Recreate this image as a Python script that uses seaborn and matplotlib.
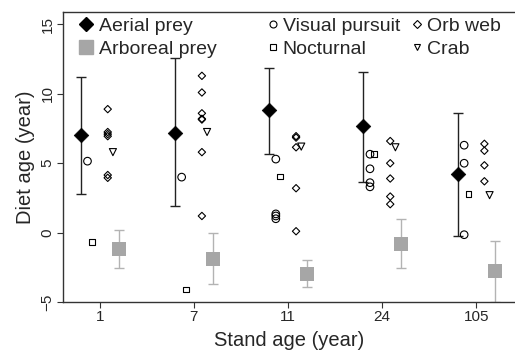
import matplotlib
matplotlib.use("Agg")
import matplotlib.pyplot as plt
from matplotlib.lines import Line2D
import numpy as np
import pandas as pd
import seaborn as sns

# ---------------- data ----------------
stand_ages = ["1", "7", "11", "24", "105"]

aerial_mean = [7.0, 7.2, 8.85, 7.65, 4.2]
aerial_low = [2.75, 1.9, 5.65, 3.65, -0.25]
aerial_high = [11.2, 12.55, 11.9, 11.55, 8.6]

arboreal_mean = [-1.15, -1.9, -2.95, -0.8, -2.75]
arboreal_low = [-2.55, -3.7, -3.95, -2.55, -5.0]
arboreal_high = [0.2, -0.05, -1.95, 0.95, -0.6]

visual_pursuit = [[5.15], [4.0], [5.3, 1.35, 1.2, 1.0], [5.65, 4.6, 3.6, 3.3], [6.3, 5.0, -0.15]]
nocturnal = [[-0.65], [-4.1], [4.05], [5.65], [2.8]]
orb_web = [[8.9, 7.25, 7.1, 6.95, 4.15, 3.95],
           [11.3, 10.1, 8.6, 8.2, 8.15, 5.8, 1.2],
           [6.95, 6.85, 6.15, 3.2, 0.1],
           [6.6, 5.0, 3.9, 2.6, 2.05],
           [6.4, 5.9, 4.85, 3.7]]
crab = [[5.8], [7.25], [6.2], [6.15], [2.7]]

# ---------------- styling ----------------
sns.set_theme(style="ticks")
plt.rcParams["font.family"] = ["Liberation Sans", "DejaVu Sans"]

offsets = {"Aerial prey": -0.2, "Visual pursuit": -0.13, "Nocturnal": -0.085,
           "Orb web": 0.085, "Crab": 0.14, "Arboreal prey": 0.2}
small = {"Visual pursuit": ("o", 30), "Nocturnal": ("s", 17),
         "Orb web": ("D", 14), "Crab": ("v", 26)}

fig = plt.figure(figsize=(5.15, 3.53), dpi=100)
ax = fig.add_axes([63 / 515, 1 - 302 / 353, 1 - 63 / 515, (302 - 12) / 353])

gidx = np.arange(len(stand_ages))

# individual spider points
rows = []
for name, data in [("Visual pursuit", visual_pursuit), ("Nocturnal", nocturnal),
                   ("Orb web", orb_web), ("Crab", crab)]:
    for g, vals in enumerate(data):
        for v in vals:
            rows.append({"group": g, "kind": name, "diet": v})
df = pd.DataFrame(rows)
df["pos"] = df["group"] + df["kind"].map(offsets)

for name, (mk, sz) in small.items():
    sub = df[df["kind"] == name]
    sns.scatterplot(data=sub, x="pos", y="diet", ax=ax, marker=mk, s=sz,
                    facecolors="none", edgecolors="black", linewidth=0.8,
                    legend=False, zorder=3)

# aerial prey mean with interval
ax_pos = gidx + offsets["Aerial prey"]
am = np.array(aerial_mean)
ax.errorbar(ax_pos, am, yerr=[am - np.array(aerial_low), np.array(aerial_high) - am],
            fmt="none", ecolor="#222222", elinewidth=1.0, capsize=3.3, capthick=1.0, zorder=2)
sns.scatterplot(x=ax_pos, y=am, ax=ax, marker="D", s=55, color="black",
                edgecolor="black", linewidth=0.5, legend=False, zorder=4)

# arboreal prey mean with interval
ar_pos = gidx + offsets["Arboreal prey"]
rm = np.array(arboreal_mean)
ax.errorbar(ar_pos, rm, yerr=[rm - np.array(arboreal_low), np.array(arboreal_high) - rm],
            fmt="none", ecolor="#b3b3b3", elinewidth=1.0, capsize=3.3, capthick=1.0, zorder=2)
sns.scatterplot(x=ar_pos, y=rm, ax=ax, marker="s", s=105, color="#a6a6a6",
                edgecolor="#a6a6a6", linewidth=0, legend=False, zorder=4)

# axes
ax.set_xlim(-0.39, 4.41)
ax.set_ylim(-5, 15.9)
ax.set_xticks(gidx)
ax.set_xticklabels(stand_ages)
ax.set_yticks([-5, 0, 5, 10, 15])
ax.set_xlabel("Stand age (year)", fontsize=14.5, labelpad=5)
ax.set_ylabel("Diet age (year)", fontsize=14.5, labelpad=4)
ax.tick_params(axis="both", labelsize=11, length=4, width=0.8, color="#333333",
               direction="out", pad=2)
for lab in ax.get_yticklabels():
    lab.set_rotation(90)
    lab.set_va("center")
for s in ["left", "bottom", "top"]:
    ax.spines[s].set_visible(True)
    ax.spines[s].set_color("#333333")
    ax.spines[s].set_linewidth(1.0)
ax.spines["right"].set_visible(False)

# legends
def fx(px):
    return (px - 63) / (515 - 63)

def fy(py):
    return (302 - py) / (302 - 12)

h1 = [Line2D([], [], marker="D", color="black", ls="none", markersize=7),
      Line2D([], [], marker="s", color="#a6a6a6", ls="none", markersize=10)]
leg1 = ax.legend(h1, ["Aerial prey", "Arboreal prey"], loc="upper left",
                 bbox_to_anchor=(fx(77), fy(17)), frameon=False, fontsize=14,
                 handlelength=0.9, handletextpad=0.25, labelspacing=0.3,
                 borderpad=0, borderaxespad=0)
ax.add_artist(leg1)

h2 = [Line2D([], [], marker="o", mfc="none", mec="black", ls="none", markersize=5, mew=0.8),
      Line2D([], [], marker="s", mfc="none", mec="black", ls="none", markersize=4, mew=0.8),
      Line2D([], [], marker="D", mfc="none", mec="black", ls="none", markersize=3.6, mew=0.8),
      Line2D([], [], marker="v", mfc="none", mec="black", ls="none", markersize=4.5, mew=0.8)]
ax.legend(h2, ["Visual pursuit", "Nocturnal", "Orb web", "Crab"], ncol=2,
          loc="upper left", bbox_to_anchor=(fx(267), fy(17)), frameon=False,
          fontsize=14, handlelength=0.6, handletextpad=0.2, labelspacing=0.3,
          columnspacing=0.6, borderpad=0, borderaxespad=0)

fig.savefig("out.png", dpi=100)
